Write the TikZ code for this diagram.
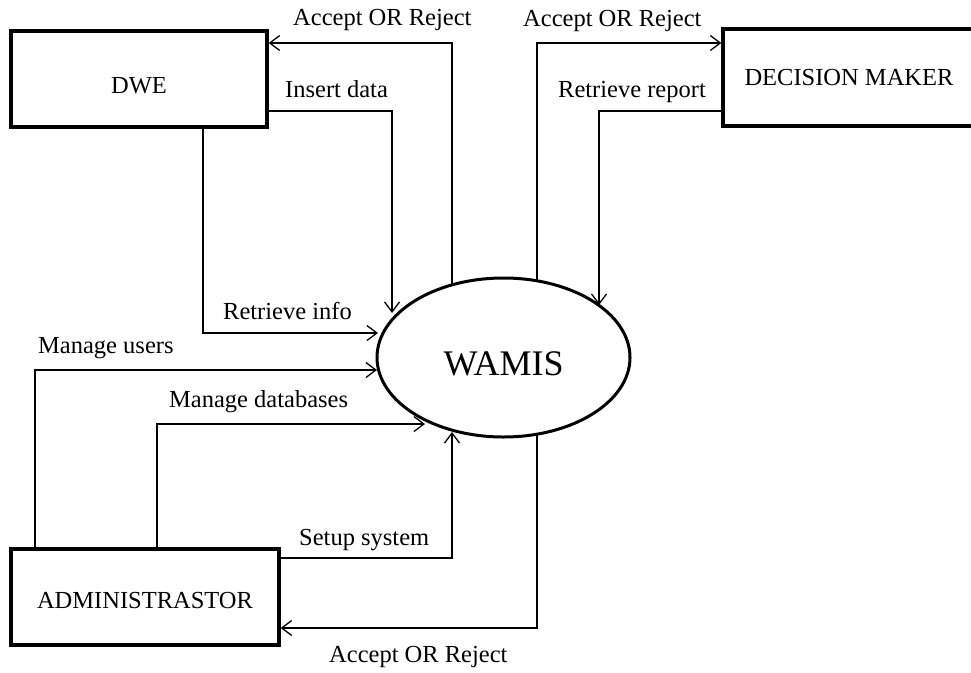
\documentclass[tikz,border=0pt]{standalone}
\usepackage{fontspec}
\setmainfont{Liberation Serif}
\usetikzlibrary{arrows.meta,shapes.geometric}
\begin{document}
\begin{tikzpicture}[x=1pt,y=-1pt,
  font=\fontsize{24.5}{28}\selectfont,
  entity/.style={draw,line width=3.2pt,rectangle,inner sep=0pt,text depth=0pt},
  flow/.style={line width=1.3pt,-{Straight Barb[length=10pt,width=15pt,line width=1.3pt]}},
  lbl/.style={anchor=base west,inner sep=0pt}]
\useasboundingbox (0,0) rectangle (971,672);
\begin{scope}
\clip (0,0) rectangle (971,672);
\node[entity,minimum width=256pt,minimum height=96pt,text height=28pt] (dwe) at (139,79) {DWE};
\node[entity,minimum width=252pt,minimum height=97pt,text height=16pt] (dm) at (849,77.5) {DECISION MAKER};
\node[entity,minimum width=268pt,minimum height=96pt,text height=22pt] (admin) at (145,597) {ADMINISTRASTOR};
\node[ellipse,draw,line width=3pt,minimum width=253pt,minimum height=159pt,inner sep=0pt,
      text height=35pt,text depth=0pt,font=\fontsize{36}{40}\selectfont] (wamis) at (503.5,357.5) {WAMIS};
\end{scope}

\coordinate (w1) at (452,284);
\coordinate (w2) at (392,313);
\coordinate (w3) at (378,333);
\coordinate (w4) at (537,280);
\coordinate (w5) at (599,305);
\coordinate (w6) at (377,370);
\coordinate (w7) at (425,424);
\coordinate (w8) at (452,432);
\coordinate (w9) at (537,434);

\draw[flow] (w1) |- (dwe.east |- 0,43);
\draw[flow] (dwe.east |- 0,111) -| (w2);
\draw[flow] (dwe.south -| 203,0) |- (w3);
\draw[flow] (w4) |- (dm.west |- 0,43);
\draw[flow] (dm.west |- 0,111) -| (w5);
\draw[flow] (admin.north -| 35,0) |- (w6);
\draw[flow] (admin.north -| 157,0) |- (w7);
\draw[flow] (admin.east |- 0,558) -| (w8);
\draw[flow] (w9) |- (admin.east |- 0,628);

\node[lbl] (l1) at (293,25) {Accept OR Reject};
\node[lbl] (l2) at (285,97) {Insert data};
\node[lbl] (l3) at (523,26) {Accept OR Reject};
\node[lbl] (l4) at (558,97) {Retrieve report};
\node[lbl] (l5) at (223,319) {Retrieve info};
\node[lbl] (l6) at (38,353) {Manage users};
\node[lbl] (l7) at (169,407) {Manage databases};
\node[lbl] (l8) at (299,545) {Setup system};
\node[lbl] (l9) at (329,662) {Accept OR Reject};
\end{tikzpicture}
\end{document}
